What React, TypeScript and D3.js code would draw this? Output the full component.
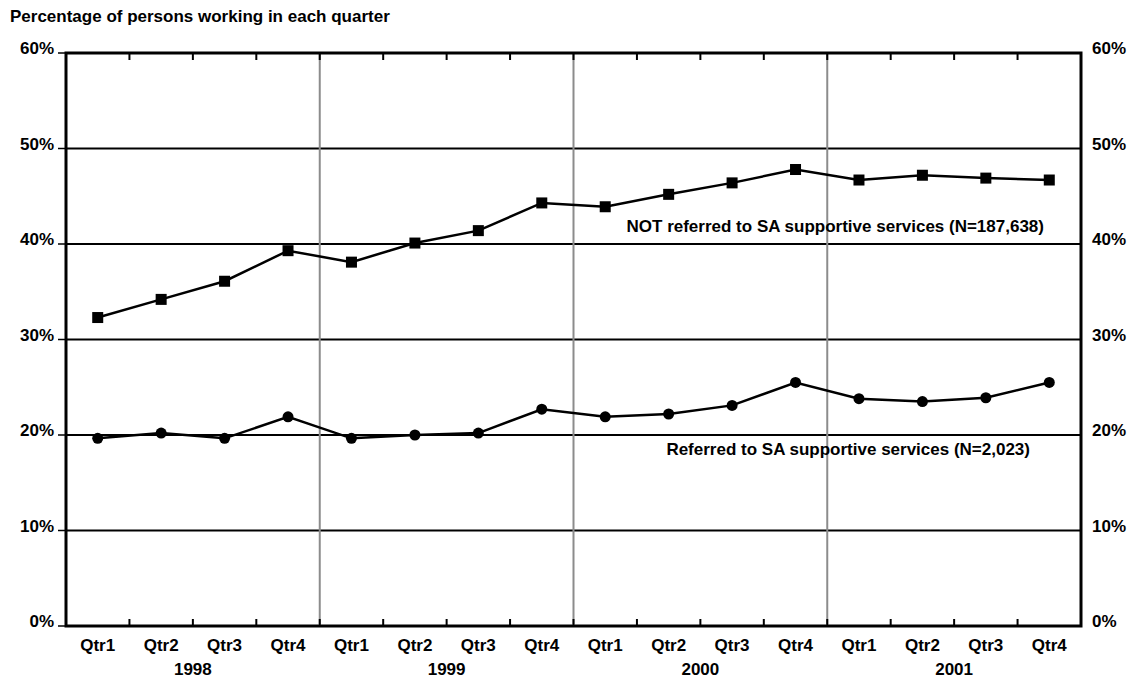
import { useEffect, useRef } from "react";
import * as d3 from "d3";

const years = ["1998", "1999", "2000", "2001"];
const quarters = ["Qtr1", "Qtr2", "Qtr3", "Qtr4"];

// percent working, one value per quarter 1998 Q1 .. 2001 Q4
const notReferred = [32.3, 34.2, 36.1, 39.3, 38.1, 40.1, 41.4, 44.3, 43.9, 45.2, 46.4, 47.8, 46.7, 47.2, 46.9, 46.7];
const referred = [19.65, 20.2, 19.65, 21.9, 19.65, 20.0, 20.2, 22.7, 21.9, 22.2, 23.1, 25.5, 23.8, 23.5, 23.9, 25.5];

const yTicks = [0, 10, 20, 30, 40, 50, 60];

const title = "Percentage of persons working in each quarter";
const notReferredLabel = "NOT referred to SA supportive services (N=187,638)";
const referredLabel = "Referred to SA supportive services (N=2,023)";

const width = 1131;
const height = 681;
const font = "'Liberation Sans', Arial, Helvetica, sans-serif";
const fs = 17;

export default function App() {
  const svgRef = useRef<SVGSVGElement>(null);

  useEffect(() => {
    if (!svgRef.current) return;
    const svg = d3.select(svgRef.current);
    svg.selectAll("*").remove();

    const margin = { top: 53, right: 50, bottom: 55, left: 66 };
    const innerW = width - margin.left - margin.right;
    const innerH = height - margin.top - margin.bottom;

    const g = svg.append("g").attr("transform", `translate(${margin.left},${margin.top})`);

    const periods = years.flatMap((yr) => quarters.map((q) => `${yr}-${q}`));

    const x = d3.scaleBand<string>().domain(periods).range([0, innerW]);
    const xYear = d3.scaleBand<string>().domain(years).range([0, innerW]);
    const y = d3.scaleLinear().domain([0, 60]).range([innerH, 0]);

    // title
    svg.append("text")
      .attr("x", 10)
      .attr("y", 22)
      .attr("font-family", font)
      .attr("font-weight", "bold")
      .attr("font-size", fs)
      .text(title);

    // horizontal gridlines
    g.selectAll(".grid")
      .data(yTicks.filter((t) => t > 0 && t < 60))
      .enter()
      .append("line")
      .attr("x1", 0)
      .attr("x2", innerW)
      .attr("y1", (d) => y(d))
      .attr("y2", (d) => y(d))
      .attr("stroke", "#000")
      .attr("stroke-width", 2);

    // year separators
    g.selectAll(".sep")
      .data(years.slice(1))
      .enter()
      .append("line")
      .attr("x1", (d) => xYear(d)!)
      .attr("x2", (d) => xYear(d)!)
      .attr("y1", 0)
      .attr("y2", innerH - 2)
      .attr("stroke", "#8c8c8c")
      .attr("stroke-width", 2);

    // inward x ticks (top and bottom)
    const boundaries = periods.slice(1).map((p) => x(p)!);
    boundaries.forEach((bx) => {
      g.append("line")
        .attr("x1", bx).attr("x2", bx)
        .attr("y1", innerH).attr("y2", innerH - 7)
        .attr("stroke", "#000").attr("stroke-width", 2);
      g.append("line")
        .attr("x1", bx).attr("x2", bx)
        .attr("y1", 0).attr("y2", 7)
        .attr("stroke", "#000").attr("stroke-width", 2);
    });

    // frame
    g.append("rect")
      .attr("x", 0)
      .attr("y", 0)
      .attr("width", innerW)
      .attr("height", innerH)
      .attr("fill", "none")
      .attr("stroke", "#000")
      .attr("stroke-width", 3);

    // y tick marks and labels, both sides
    yTicks.forEach((t) => {
      g.append("line")
        .attr("x1", -8).attr("x2", 0)
        .attr("y1", y(t)).attr("y2", y(t))
        .attr("stroke", "#000").attr("stroke-width", 1.5);
      g.append("text")
        .attr("x", -12)
        .attr("y", y(t) + 1)
        .attr("text-anchor", "end")
        .attr("font-family", font)
        .attr("font-weight", "bold")
        .attr("font-size", fs)
        .text(`${t}%`);
      g.append("text")
        .attr("x", innerW + 11)
        .attr("y", y(t) + 1)
        .attr("text-anchor", "start")
        .attr("font-family", font)
        .attr("font-weight", "bold")
        .attr("font-size", fs)
        .text(`${t}%`);
    });

    // x labels
    periods.forEach((p) => {
      g.append("text")
        .attr("x", x(p)! + x.bandwidth() / 2)
        .attr("y", innerH + 25)
        .attr("text-anchor", "middle")
        .attr("font-family", font)
        .attr("font-weight", "bold")
        .attr("font-size", fs)
        .text(p.split("-")[1]);
    });
    years.forEach((yr) => {
      g.append("text")
        .attr("x", xYear(yr)! + xYear.bandwidth() / 2)
        .attr("y", innerH + 49)
        .attr("text-anchor", "middle")
        .attr("font-family", font)
        .attr("font-weight", "bold")
        .attr("font-size", fs)
        .text(yr);
    });

    const cx = (i: number) => x(periods[i])! + x.bandwidth() / 2;
    const line = d3.line<number>().x((_, i) => cx(i)).y((d) => y(d));

    [notReferred, referred].forEach((series) => {
      g.append("path")
        .datum(series)
        .attr("fill", "none")
        .attr("stroke", "#000")
        .attr("stroke-width", 2.5)
        .attr("d", line);
    });

    g.selectAll(".sq")
      .data(notReferred)
      .enter()
      .append("rect")
      .attr("x", (_, i) => cx(i) - 5.5)
      .attr("y", (d) => y(d) - 5.5)
      .attr("width", 11)
      .attr("height", 11)
      .attr("fill", "#000");

    g.selectAll(".dot")
      .data(referred)
      .enter()
      .append("circle")
      .attr("cx", (_, i) => cx(i))
      .attr("cy", (d) => y(d))
      .attr("r", 5.5)
      .attr("fill", "#000");

    // series labels
    svg.append("text")
      .attr("x", 1044)
      .attr("y", 232)
      .attr("text-anchor", "end")
      .attr("font-family", font)
      .attr("font-weight", "bold")
      .attr("font-size", fs)
      .text(notReferredLabel);
    svg.append("text")
      .attr("x", 1030)
      .attr("y", 455)
      .attr("text-anchor", "end")
      .attr("font-family", font)
      .attr("font-weight", "bold")
      .attr("font-size", fs)
      .text(referredLabel);
  }, []);

  return (
    <svg
      ref={svgRef}
      width={width}
      height={height}
      style={{ position: "absolute", left: 0, top: 0, background: "#fff" }}
    />
  );
}
